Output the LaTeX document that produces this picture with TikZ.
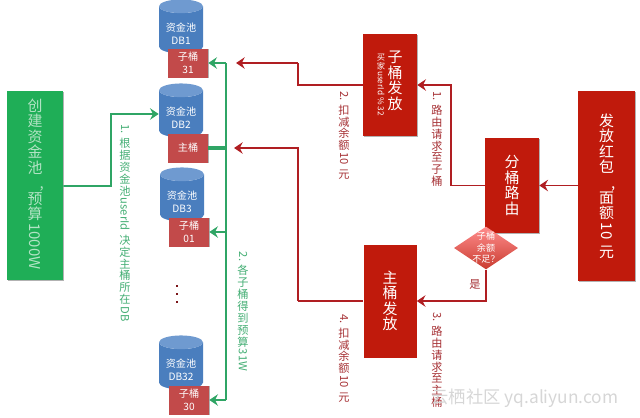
\documentclass[tikz,border=0pt]{standalone}
\usepackage{fontspec}
\usepackage{graphicx}
\setmainfont{Noto Sans CJK SC}
\usetikzlibrary{arrows.meta,shapes.geometric,shadows}
\definecolor{boxred}{HTML}{C01A0C}
\definecolor{boxgreen}{HTML}{1FAE57}
\definecolor{linegreen}{HTML}{2FA565}
\definecolor{linered}{HTML}{B01E22}
\definecolor{bucketred}{HTML}{C24A4A}
\definecolor{dbblue}{HTML}{4A7EBE}
\definecolor{dbtop}{HTML}{6F9AD0}
\newcommand{\pxu}{0.75pt}
\newcommand{\rot}[1]{\raisebox{\depth}{\rotatebox{-90}{\,#1\,}}}
\newcommand{\sidecomma}{\hspace*{.9em},}
\newcommand{\poolname}[1]{\rule{0pt}{12pt}资金池\\#1}
\setlength{\lineskip}{0pt}
\tikzset{
 >={Stealth[length=6.5pt,width=8.5pt,inset=2.2pt]},
 softshadow/.style={drop shadow={shadow xshift=.5pt,shadow yshift=-.7pt,opacity=.3,fill=black}},
 box/.style={shape=rectangle,fill=boxred,text=white,align=center,inner sep=0pt,softshadow,
   font=\fontsize{11.2}{11.6}\selectfont},
 bucket/.style={shape=rectangle,fill=bucketred,text=white,align=center,inner sep=0pt,softshadow,
   minimum width=40*\pxu,minimum height=29*\pxu,font=\fontsize{7.6}{9.6}\selectfont},
 pooldb/.style={shape=cylinder,shape border rotate=90,aspect=.45,draw=none,
   cylinder uses custom fill,cylinder body fill=dbblue,cylinder end fill=dbtop,
   minimum width=44*\pxu,minimum height=54*\pxu,inner sep=0pt,text=white,align=center,
   font=\fontsize{7.6}{9.2}\selectfont},
 dotmark/.style={shape=rectangle,fill=linered!70!black,minimum size=2.2pt,inner sep=0pt},
 greenline/.style={color=linegreen,line width=1.4pt},
 redline/.style={color=linered,line width=1.3pt},
 lab/.style={shape=rectangle,align=center,inner sep=0pt,font=\fontsize{8.4}{8.9}\selectfont},
}

\begin{document}
\begin{tikzpicture}[x=0.75pt,y=-0.75pt]
\useasboundingbox (0,0) rectangle (640,418);

% left and right boxes
\path (35,185.5) node[name=create,box,fill=boxgreen,text=boxgreen!35!white,minimum width=56*\pxu,minimum height=189*\pxu]
  {创\\建\\资\\金\\池\\\sidecomma\\预\\算\\\rot{1000W}};
\path (606.5,186) node[name=send,box,minimum width=57*\pxu,minimum height=190*\pxu]
  {发\\放\\红\\包\\\sidecomma\\面\\额\\\rot{10}\\元};
\path (512,185.5) node[name=route,box,minimum width=54*\pxu,minimum height=95*\pxu]
  {分\\桶\\路\\由};
\path (390,85) node[name=subsend,box,minimum width=54*\pxu,minimum height=102*\pxu] {};
\path (395,81) node[name=subtitle,lab,text=white,font=\fontsize{11.2}{11.6}\selectfont] {子\\桶\\发\\放};
\path (381,85.5) node[name=subkey,lab,text=white,font=\fontsize{6.2}{6.6}\selectfont] {买\\家\\\rot{userId \% 32}};
\path (390,301) node[name=mainsend,box,minimum width=53*\pxu,minimum height=113*\pxu]
  {主\\桶\\发\\放};
\path (486,248) node[name=check,shape=diamond,aspect=1.5,inner sep=-1.5pt,top color=red!45!white,bottom color=boxred!85!white,
  text=white,align=center,font=\fontsize{6.8}{8.6}\selectfont] {子桶\\余额\\不足？};

% pools and their buckets
\path (181,30) node[name=db1,pooldb] {\poolname{DB1}};
\path (181,114) node[name=db2,pooldb] {\poolname{DB2}};
\path (182,198) node[name=db3,pooldb] {\poolname{DB3}};
\path (181,366) node[name=db32,pooldb] {\poolname{DB32}};
\path (188,63) node[name=sub31,bucket] {子桶\\31};
\path (188,148) node[name=mainb,bucket] {主桶};
\path (189,232) node[name=sub01,bucket] {子桶\\01};
\path (189,400) node[name=sub30,bucket] {子桶\\30};
\path (177,286) node[name=dot1,dotmark] {};
\path (177,294) node[name=dot2,dotmark] {};
\path (177,302) node[name=dot3,dotmark] {};

% green budget lines
\coordinate (trunktop) at (226,63);
\coordinate (trunkbot) at (226,400);
\coordinate (turnpool) at (111,114);
\draw[->,greenline] (create.east |- 0,186) -| (turnpool) -- (db2.west);
\draw[greenline] (trunktop) -- (trunkbot);
\draw[greenline,line width=2.4pt] (mainb.east) -- (mainb.east -| trunktop);
\path[->,greenline] (trunktop) edge (sub31.east);
\path[->,greenline] (sub01 -| trunktop) edge (sub01.east);
\path[->,greenline] (trunkbot) edge (sub30.east);

% red request lines
\coordinate (turnsub) at (451,85);
\coordinate (turnback) at (298,63);
\coordinate (hitsub) at (236,63);
\coordinate (turnmain) at (298,301);
\coordinate (hitmain) at (234,148);
\path[->,redline] (send.west |- route) edge (route.east);
\draw[->,redline] (route.west) -| (turnsub) -- (subsend.east);
\draw[redline] (subsend.west) -| (turnback);
\draw[->,redline] (turnback) -- (hitsub);
\draw[->,redline] (check.south) |- (mainsend.east);
\draw[redline] (mainsend.west) -- (turnmain);
\draw[->,redline] (turnmain) |- (hitmain);

% step labels
\path (125,223) node[name=lab1,lab,text=linegreen!90!white] {\rot{1.}\\根\\据\\资\\金\\池\\\rot{userId}\\决\\定\\主\\桶\\所\\在\\\rot{DB}};
\path (243,311.5) node[name=lab2,lab,text=linegreen!90!white] {\rot{2.}\\各\\子\\桶\\得\\到\\预\\算\\\rot{31W}};
\path (437,138) node[name=lab3,lab,text=linered!80!gray] {\rot{1.}\\路\\由\\请\\求\\至\\子\\桶};
\path (344,134.5) node[name=lab4,lab,text=linered!80!gray] {\rot{2.}\\扣\\减\\余\\额\\\rot{10}\\元};
\path (437,359) node[name=lab5,lab,text=linered!80!gray] {\rot{3.}\\路\\由\\请\\求\\至\\主\\桶};
\path (344,357.5) node[name=lab6,lab,text=linered!80!gray] {\rot{4.}\\扣\\减\\余\\额\\\rot{10}\\元};
\path (475,284) node[name=yes,lab,text=linered!80!gray] {是};

\path (525,398) node[name=mark,shape=rectangle,inner sep=0pt,text=black!16,font=\fontsize{13}{13}\selectfont] {云栖社区 yq.aliyun.com};
\end{tikzpicture}
\end{document}
